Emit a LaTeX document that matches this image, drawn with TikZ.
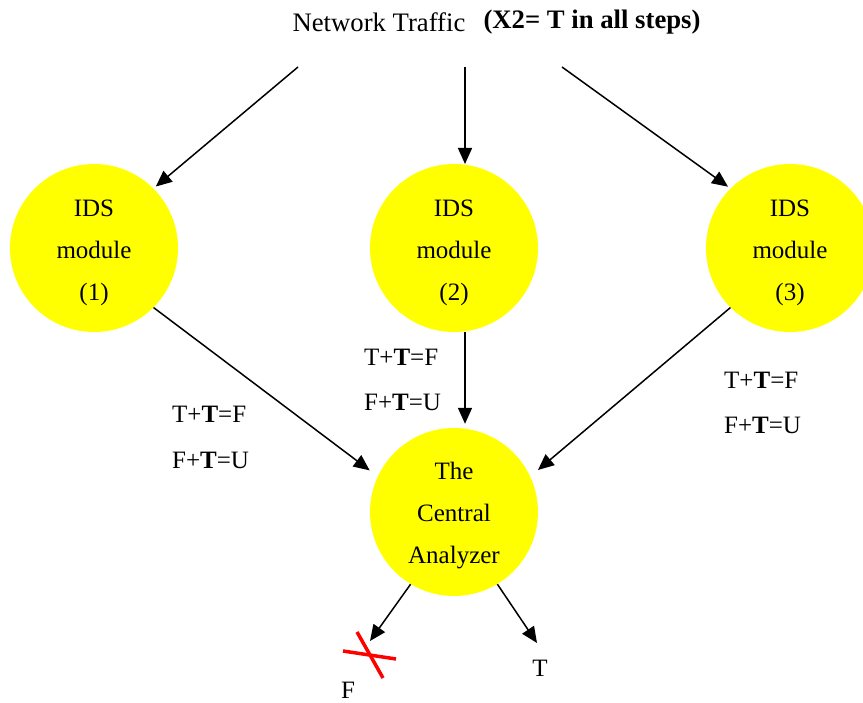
\documentclass[tikz,border=0pt]{standalone}
\usepackage{fontspec}
\setmainfont{Liberation Serif}
\usetikzlibrary{arrows.meta}
\definecolor{yel}{RGB}{255,255,0}
\definecolor{redx}{RGB}{255,0,0}
\begin{document}
\begin{tikzpicture}[x=1pt,y=-1pt,
  every node/.style={font=\fontsize{25}{42}\selectfont},
  ids/.style={circle,fill=yel,minimum size=168pt,inner sep=0pt},
  txt/.style={align=center,inner sep=0pt},
  arr/.style={draw=black,line width=1.5pt,-{Triangle[length=16pt,width=14pt]}},
  lbl/.style={anchor=west,inner sep=0pt},
  ttl/.style={font=\fontsize{26.7}{42}\selectfont},
  cross/.style={draw=redx,line width=3.5pt}]
\useasboundingbox (0,0) rectangle (863,703);
\node[ids] (c1) at (94,248) {};
\node[ids] (c2) at (454,248) {};
\node[ids] (c3) at (790,248) {};
\node[ids] (ca) at (454,512) {};
\node[txt] (c1t) at (94,253) {IDS\\module\\(1)};
\node[txt] (c2t) at (454,253) {IDS\\module\\(2)};
\node[txt] (c3t) at (790,253) {IDS\\module\\(3)};
\node[txt] (cat) at (454,516) {The\\Central\\Analyzer};
\node[ttl] (t1) at (379,22) {Network Traffic};
\node[ttl,font=\fontsize{26.7}{42}\selectfont\bfseries] (t2) at (592,22) {(X2= T in all steps)};
\coordinate (s1) at (298,67);
\coordinate (s2) at (465,67);
\coordinate (s3) at (562,67);
\coordinate (e2) at (465,164);
\draw[arr,shorten >=3pt] (s1) -- (c1.45);
\draw[arr] (s2) -- (e2);
\draw[arr,shorten >=3pt] (s3) -- (c3.135);
\draw[arr,shorten >=10pt] (c1.-45) -- (ca.155);
\draw[arr,shorten >=4pt] ([xshift=11pt]c2.south) -- ([xshift=11pt]ca.north);
\draw[arr,shorten >=10pt] (c3.225) -- (ca.25);
\coordinate (fe) at (370,641);
\coordinate (te) at (537,643);
\draw[arr] (ca.-121) -- (fe);
\draw[arr] (ca.-59) -- (te);
\node (lt1) [lbl] at (172,414) {T+\textbf{T}=F};
\node (lf1) [lbl] at (172,460) {F+\textbf{T}=U};
\node (lt2) [lbl] at (364,357) {T+\textbf{T}=F};
\node (lf2) [lbl] at (364,402) {F+\textbf{T}=U};
\node (lt3) [lbl] at (724,380) {T+\textbf{T}=F};
\node (lf3) [lbl] at (724,425) {F+\textbf{T}=U};
\coordinate (x1) at (357,632);
\coordinate (x2) at (383,678);
\coordinate (x3) at (343,651);
\coordinate (x4) at (396,659);
\draw[cross] (x1) -- (x2);
\draw[cross] (x3) -- (x4);
\node (F) at (348,690) {F};
\node (T) at (540,668) {T};
\end{tikzpicture}
\end{document}
